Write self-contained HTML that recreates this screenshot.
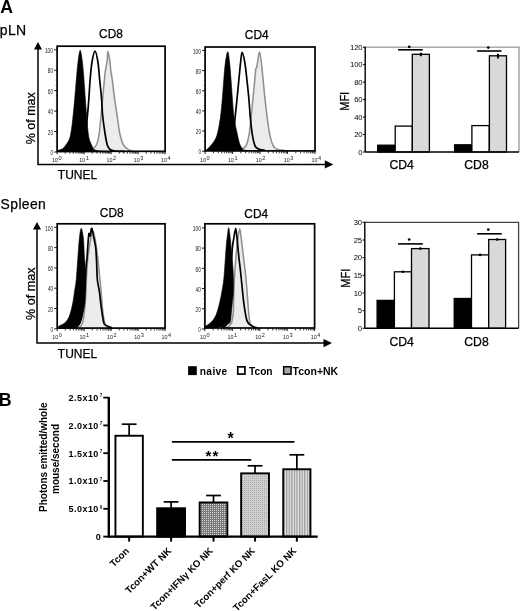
<!DOCTYPE html>
<html><head><meta charset="utf-8"><style>
html,body{margin:0;padding:0;background:#fff;overflow:hidden;width:520px;height:611px;}
svg{display:block;will-change:transform;}
text{font-family:"Liberation Sans", sans-serif;} .th{stroke:#000;stroke-width:0.25px;}
</style></head><body>
<svg width="520" height="611" viewBox="0 0 520 611">
<rect width="520" height="611" fill="#fff"/>
<text x="0.20" y="12.60" font-size="17.60" text-anchor="start" font-weight="bold" fill="#000" >A</text>
<text class="th" x="-0.20" y="34.60" font-size="14.00" text-anchor="start" font-weight="normal" fill="#000" letter-spacing="0.35">pLN</text>
<text class="th" x="0.60" y="209.40" font-size="13.90" text-anchor="start" font-weight="normal" fill="#000" letter-spacing="0.4">Spleen</text>
<path d="M80.00,152.00 C81.83,151.67 88.27,151.17 91.00,150.00 C93.73,148.83 95.05,147.67 96.40,145.00 C97.75,142.33 98.33,138.83 99.10,134.00 C99.87,129.17 100.40,122.00 101.00,116.00 C101.60,110.00 102.13,104.00 102.70,98.00 C103.27,92.00 103.95,84.58 104.40,80.00 C104.85,75.42 104.93,73.72 105.40,70.50 C105.87,67.28 106.80,63.92 107.20,60.70 C107.60,57.48 107.37,51.20 107.80,51.20 C108.23,51.20 109.30,57.48 109.80,60.70 C110.30,63.92 110.38,67.28 110.80,70.50 C111.22,73.72 111.68,75.42 112.30,80.00 C112.92,84.58 113.68,92.00 114.50,98.00 C115.32,104.00 116.30,110.00 117.20,116.00 C118.10,122.00 118.85,129.17 119.90,134.00 C120.95,138.83 122.00,142.33 123.50,145.00 C125.00,147.67 126.98,148.83 128.90,150.00 C130.82,151.17 133.98,151.67 135.00,152.00 Z" fill="#ececec" stroke="none"/>
<path d="M80.00,152.00 C81.83,151.67 88.27,151.17 91.00,150.00 C93.73,148.83 95.05,147.67 96.40,145.00 C97.75,142.33 98.33,138.83 99.10,134.00 C99.87,129.17 100.40,122.00 101.00,116.00 C101.60,110.00 102.13,104.00 102.70,98.00 C103.27,92.00 103.95,84.58 104.40,80.00 C104.85,75.42 104.93,73.72 105.40,70.50 C105.87,67.28 106.80,63.92 107.20,60.70 C107.60,57.48 107.37,51.20 107.80,51.20 C108.23,51.20 109.30,57.48 109.80,60.70 C110.30,63.92 110.38,67.28 110.80,70.50 C111.22,73.72 111.68,75.42 112.30,80.00 C112.92,84.58 113.68,92.00 114.50,98.00 C115.32,104.00 116.30,110.00 117.20,116.00 C118.10,122.00 118.85,129.17 119.90,134.00 C120.95,138.83 122.00,142.33 123.50,145.00 C125.00,147.67 126.98,148.83 128.90,150.00 C130.82,151.17 133.98,151.67 135.00,152.00" fill="none" stroke="#909090" stroke-width="1.55"/>
<path d="M57.30,152.00 C57.50,151.70 57.72,150.70 58.50,150.20 C59.28,149.70 60.95,149.63 62.00,149.00 C63.05,148.37 63.67,147.83 64.80,146.40 C65.93,144.97 67.83,142.37 68.80,140.40 C69.77,138.43 70.02,137.50 70.60,134.60 C71.18,131.70 71.82,126.85 72.30,123.00 C72.78,119.15 73.12,115.33 73.50,111.50 C73.88,107.67 74.13,105.25 74.60,100.00 C75.07,94.75 75.73,86.33 76.30,80.00 C76.87,73.67 77.35,66.95 78.00,62.00 C78.65,57.05 79.47,50.30 80.20,50.30 C80.93,50.30 81.77,57.05 82.40,62.00 C83.03,66.95 83.50,73.67 84.00,80.00 C84.50,86.33 85.02,94.75 85.40,100.00 C85.78,105.25 86.00,107.67 86.30,111.50 C86.60,115.33 86.85,119.15 87.20,123.00 C87.55,126.85 88.00,131.70 88.40,134.60 C88.80,137.50 88.97,138.47 89.60,140.40 C90.23,142.33 91.48,144.70 92.20,146.20 C92.92,147.70 92.60,148.57 93.90,149.40 C95.20,150.23 97.32,150.77 100.00,151.20 C102.68,151.63 108.33,151.87 110.00,152.00 Z" fill="#000" stroke="#000" stroke-width="0.6"/>
<path d="M72.00,151.50 C73.33,151.08 77.92,150.58 80.00,149.00 C82.08,147.42 83.27,147.50 84.50,142.00 C85.73,136.50 86.67,123.33 87.40,116.00 C88.13,108.67 88.45,104.00 88.90,98.00 C89.35,92.00 89.58,86.00 90.10,80.00 C90.62,74.00 91.18,66.80 92.00,62.00 C92.82,57.20 94.02,51.20 95.00,51.20 C95.98,51.20 97.12,57.20 97.90,62.00 C98.68,66.80 99.10,74.00 99.70,80.00 C100.30,86.00 101.00,92.00 101.50,98.00 C102.00,104.00 102.10,110.00 102.70,116.00 C103.30,122.00 104.33,129.17 105.10,134.00 C105.87,138.83 106.48,142.42 107.30,145.00 C108.12,147.58 108.72,148.50 110.00,149.50 C111.28,150.50 112.50,150.67 115.00,151.00 C117.50,151.33 123.33,151.42 125.00,151.50" fill="none" stroke="#000" stroke-width="1.7"/>
<rect x="57.10" y="46.20" width="108.00" height="105.10" fill="none" stroke="#000" stroke-width="1.7"/>
<line x1="54.10" y1="152.00" x2="57.10" y2="152.00" stroke="#000" stroke-width="0.9"/>
<text x="53.10" y="155.20" font-size="6.40" text-anchor="end" font-weight="normal" fill="#222" textLength="2.6" lengthAdjust="spacingAndGlyphs">0</text>
<line x1="55.80" y1="146.89" x2="57.10" y2="146.89" stroke="#333" stroke-width="0.7"/>
<line x1="55.80" y1="141.78" x2="57.10" y2="141.78" stroke="#333" stroke-width="0.7"/>
<line x1="55.80" y1="136.67" x2="57.10" y2="136.67" stroke="#333" stroke-width="0.7"/>
<line x1="54.10" y1="131.56" x2="57.10" y2="131.56" stroke="#000" stroke-width="0.9"/>
<text x="53.10" y="134.76" font-size="6.40" text-anchor="end" font-weight="normal" fill="#222" textLength="5.3" lengthAdjust="spacingAndGlyphs">20</text>
<line x1="55.80" y1="126.45" x2="57.10" y2="126.45" stroke="#333" stroke-width="0.7"/>
<line x1="55.80" y1="121.34" x2="57.10" y2="121.34" stroke="#333" stroke-width="0.7"/>
<line x1="55.80" y1="116.23" x2="57.10" y2="116.23" stroke="#333" stroke-width="0.7"/>
<line x1="54.10" y1="111.12" x2="57.10" y2="111.12" stroke="#000" stroke-width="0.9"/>
<text x="53.10" y="114.32" font-size="6.40" text-anchor="end" font-weight="normal" fill="#222" textLength="5.3" lengthAdjust="spacingAndGlyphs">40</text>
<line x1="55.80" y1="106.01" x2="57.10" y2="106.01" stroke="#333" stroke-width="0.7"/>
<line x1="55.80" y1="100.90" x2="57.10" y2="100.90" stroke="#333" stroke-width="0.7"/>
<line x1="55.80" y1="95.79" x2="57.10" y2="95.79" stroke="#333" stroke-width="0.7"/>
<line x1="54.10" y1="90.68" x2="57.10" y2="90.68" stroke="#000" stroke-width="0.9"/>
<text x="53.10" y="93.88" font-size="6.40" text-anchor="end" font-weight="normal" fill="#222" textLength="5.3" lengthAdjust="spacingAndGlyphs">60</text>
<line x1="55.80" y1="85.57" x2="57.10" y2="85.57" stroke="#333" stroke-width="0.7"/>
<line x1="55.80" y1="80.46" x2="57.10" y2="80.46" stroke="#333" stroke-width="0.7"/>
<line x1="55.80" y1="75.35" x2="57.10" y2="75.35" stroke="#333" stroke-width="0.7"/>
<line x1="54.10" y1="70.24" x2="57.10" y2="70.24" stroke="#000" stroke-width="0.9"/>
<text x="53.10" y="73.44" font-size="6.40" text-anchor="end" font-weight="normal" fill="#222" textLength="5.3" lengthAdjust="spacingAndGlyphs">80</text>
<line x1="55.80" y1="65.13" x2="57.10" y2="65.13" stroke="#333" stroke-width="0.7"/>
<line x1="55.80" y1="60.02" x2="57.10" y2="60.02" stroke="#333" stroke-width="0.7"/>
<line x1="55.80" y1="54.91" x2="57.10" y2="54.91" stroke="#333" stroke-width="0.7"/>
<line x1="54.10" y1="49.80" x2="57.10" y2="49.80" stroke="#000" stroke-width="0.9"/>
<text x="53.10" y="53.00" font-size="6.40" text-anchor="end" font-weight="normal" fill="#222" textLength="8.2" lengthAdjust="spacingAndGlyphs">100</text>
<line x1="57.10" y1="151.30" x2="57.10" y2="154.30" stroke="#000" stroke-width="0.9"/>
<text x="58.10" y="162.30" font-size="5.4" text-anchor="end" fill="#222">10</text>
<text x="58.60" y="160.10" font-size="5.6" fill="#222">0</text>
<line x1="65.23" y1="151.30" x2="65.23" y2="153.70" stroke="#111" stroke-width="0.85"/>
<line x1="69.98" y1="151.30" x2="69.98" y2="153.70" stroke="#111" stroke-width="0.85"/>
<line x1="73.36" y1="151.30" x2="73.36" y2="153.70" stroke="#111" stroke-width="0.85"/>
<line x1="75.97" y1="151.30" x2="75.97" y2="153.70" stroke="#111" stroke-width="0.85"/>
<line x1="78.11" y1="151.30" x2="78.11" y2="153.70" stroke="#111" stroke-width="0.85"/>
<line x1="79.92" y1="151.30" x2="79.92" y2="153.70" stroke="#111" stroke-width="0.85"/>
<line x1="81.48" y1="151.30" x2="81.48" y2="153.70" stroke="#111" stroke-width="0.85"/>
<line x1="82.86" y1="151.30" x2="82.86" y2="153.70" stroke="#111" stroke-width="0.85"/>
<line x1="84.10" y1="151.30" x2="84.10" y2="154.30" stroke="#000" stroke-width="0.9"/>
<text x="85.30" y="162.30" font-size="5.4" text-anchor="end" fill="#222">10</text>
<text x="85.80" y="160.10" font-size="5.6" fill="#222">1</text>
<line x1="92.23" y1="151.30" x2="92.23" y2="153.70" stroke="#111" stroke-width="0.85"/>
<line x1="96.98" y1="151.30" x2="96.98" y2="153.70" stroke="#111" stroke-width="0.85"/>
<line x1="100.36" y1="151.30" x2="100.36" y2="153.70" stroke="#111" stroke-width="0.85"/>
<line x1="102.97" y1="151.30" x2="102.97" y2="153.70" stroke="#111" stroke-width="0.85"/>
<line x1="105.11" y1="151.30" x2="105.11" y2="153.70" stroke="#111" stroke-width="0.85"/>
<line x1="106.92" y1="151.30" x2="106.92" y2="153.70" stroke="#111" stroke-width="0.85"/>
<line x1="108.48" y1="151.30" x2="108.48" y2="153.70" stroke="#111" stroke-width="0.85"/>
<line x1="109.86" y1="151.30" x2="109.86" y2="153.70" stroke="#111" stroke-width="0.85"/>
<line x1="111.10" y1="151.30" x2="111.10" y2="154.30" stroke="#000" stroke-width="0.9"/>
<text x="112.50" y="162.30" font-size="5.4" text-anchor="end" fill="#222">10</text>
<text x="113.00" y="160.10" font-size="5.6" fill="#222">2</text>
<line x1="119.23" y1="151.30" x2="119.23" y2="153.70" stroke="#111" stroke-width="0.85"/>
<line x1="123.98" y1="151.30" x2="123.98" y2="153.70" stroke="#111" stroke-width="0.85"/>
<line x1="127.36" y1="151.30" x2="127.36" y2="153.70" stroke="#111" stroke-width="0.85"/>
<line x1="129.97" y1="151.30" x2="129.97" y2="153.70" stroke="#111" stroke-width="0.85"/>
<line x1="132.11" y1="151.30" x2="132.11" y2="153.70" stroke="#111" stroke-width="0.85"/>
<line x1="133.92" y1="151.30" x2="133.92" y2="153.70" stroke="#111" stroke-width="0.85"/>
<line x1="135.48" y1="151.30" x2="135.48" y2="153.70" stroke="#111" stroke-width="0.85"/>
<line x1="136.86" y1="151.30" x2="136.86" y2="153.70" stroke="#111" stroke-width="0.85"/>
<line x1="138.10" y1="151.30" x2="138.10" y2="154.30" stroke="#000" stroke-width="0.9"/>
<text x="139.70" y="162.30" font-size="5.4" text-anchor="end" fill="#222">10</text>
<text x="140.20" y="160.10" font-size="5.6" fill="#222">3</text>
<line x1="146.23" y1="151.30" x2="146.23" y2="153.70" stroke="#111" stroke-width="0.85"/>
<line x1="150.98" y1="151.30" x2="150.98" y2="153.70" stroke="#111" stroke-width="0.85"/>
<line x1="154.36" y1="151.30" x2="154.36" y2="153.70" stroke="#111" stroke-width="0.85"/>
<line x1="156.97" y1="151.30" x2="156.97" y2="153.70" stroke="#111" stroke-width="0.85"/>
<line x1="159.11" y1="151.30" x2="159.11" y2="153.70" stroke="#111" stroke-width="0.85"/>
<line x1="160.92" y1="151.30" x2="160.92" y2="153.70" stroke="#111" stroke-width="0.85"/>
<line x1="162.48" y1="151.30" x2="162.48" y2="153.70" stroke="#111" stroke-width="0.85"/>
<line x1="163.86" y1="151.30" x2="163.86" y2="153.70" stroke="#111" stroke-width="0.85"/>
<line x1="165.10" y1="151.30" x2="165.10" y2="154.30" stroke="#000" stroke-width="0.9"/>
<text x="166.90" y="162.30" font-size="5.4" text-anchor="end" fill="#222">10</text>
<text x="167.40" y="160.10" font-size="5.6" fill="#222">4</text>
<text class="th" x="111.00" y="37.60" font-size="11.90" text-anchor="middle" font-weight="normal" fill="#000" >CD8</text>
<path d="M235.00,150.50 C235.78,150.33 237.93,150.17 239.70,149.50 C241.47,148.83 244.07,148.80 245.60,146.50 C247.13,144.20 247.98,140.55 248.90,135.70 C249.82,130.85 250.43,123.52 251.10,117.40 C251.77,111.28 252.30,105.12 252.90,99.00 C253.50,92.88 254.23,85.58 254.70,80.70 C255.17,75.82 255.32,72.15 255.70,69.70 C256.08,67.25 256.40,68.90 257.00,66.00 C257.60,63.10 258.58,52.92 259.30,52.30 C260.02,51.68 260.65,57.57 261.30,62.30 C261.95,67.03 262.58,74.58 263.20,80.70 C263.82,86.82 264.33,92.88 265.00,99.00 C265.67,105.12 266.37,111.28 267.20,117.40 C268.03,123.52 268.93,130.85 270.00,135.70 C271.07,140.55 272.23,144.20 273.60,146.50 C274.97,148.80 276.30,148.83 278.20,149.50 C280.10,150.17 283.87,150.33 285.00,150.50 Z" fill="#ececec" stroke="none"/>
<path d="M235.00,150.50 C235.78,150.33 237.93,150.17 239.70,149.50 C241.47,148.83 244.07,148.80 245.60,146.50 C247.13,144.20 247.98,140.55 248.90,135.70 C249.82,130.85 250.43,123.52 251.10,117.40 C251.77,111.28 252.30,105.12 252.90,99.00 C253.50,92.88 254.23,85.58 254.70,80.70 C255.17,75.82 255.32,72.15 255.70,69.70 C256.08,67.25 256.40,68.90 257.00,66.00 C257.60,63.10 258.58,52.92 259.30,52.30 C260.02,51.68 260.65,57.57 261.30,62.30 C261.95,67.03 262.58,74.58 263.20,80.70 C263.82,86.82 264.33,92.88 265.00,99.00 C265.67,105.12 266.37,111.28 267.20,117.40 C268.03,123.52 268.93,130.85 270.00,135.70 C271.07,140.55 272.23,144.20 273.60,146.50 C274.97,148.80 276.30,148.83 278.20,149.50 C280.10,150.17 283.87,150.33 285.00,150.50" fill="none" stroke="#909090" stroke-width="1.55"/>
<path d="M205.80,150.50 C206.72,149.58 209.47,147.47 211.30,145.00 C213.13,142.53 215.28,140.30 216.80,135.70 C218.32,131.10 219.48,123.52 220.40,117.40 C221.32,111.28 221.75,105.12 222.30,99.00 C222.85,92.88 223.18,86.82 223.70,80.70 C224.22,74.58 224.72,67.13 225.40,62.30 C226.08,57.47 227.10,51.70 227.80,51.70 C228.50,51.70 229.05,57.47 229.60,62.30 C230.15,67.13 230.63,74.58 231.10,80.70 C231.57,86.82 231.92,92.88 232.40,99.00 C232.88,105.12 233.28,112.02 234.00,117.40 C234.72,122.78 235.83,127.15 236.70,131.30 C237.57,135.45 238.40,139.60 239.20,142.30 C240.00,145.00 240.78,146.25 241.50,147.50 C242.22,148.75 242.42,149.25 243.50,149.80 C244.58,150.35 247.25,150.63 248.00,150.80 Z" fill="#000" stroke="#000" stroke-width="0.6"/>
<path d="M228.00,150.30 C228.75,148.75 231.32,146.48 232.50,141.00 C233.68,135.52 234.35,124.40 235.10,117.40 C235.85,110.40 236.38,105.12 237.00,99.00 C237.62,92.88 238.20,86.82 238.80,80.70 C239.40,74.58 240.05,67.03 240.60,62.30 C241.15,57.57 241.40,52.30 242.10,52.30 C242.80,52.30 243.98,57.57 244.80,62.30 C245.62,67.03 246.32,74.58 247.00,80.70 C247.68,86.82 248.35,92.88 248.90,99.00 C249.45,105.12 249.70,111.28 250.30,117.40 C250.90,123.52 251.67,130.85 252.50,135.70 C253.33,140.55 254.07,144.20 255.30,146.50 C256.53,148.80 258.28,148.87 259.90,149.50 C261.52,150.13 264.15,150.17 265.00,150.30" fill="none" stroke="#000" stroke-width="1.7"/>
<rect x="205.10" y="47.00" width="109.90" height="103.90" fill="none" stroke="#000" stroke-width="1.7"/>
<line x1="202.10" y1="151.20" x2="205.10" y2="151.20" stroke="#000" stroke-width="0.9"/>
<text x="201.10" y="154.40" font-size="6.40" text-anchor="end" font-weight="normal" fill="#222" textLength="2.6" lengthAdjust="spacingAndGlyphs">0</text>
<line x1="203.80" y1="146.16" x2="205.10" y2="146.16" stroke="#333" stroke-width="0.7"/>
<line x1="203.80" y1="141.12" x2="205.10" y2="141.12" stroke="#333" stroke-width="0.7"/>
<line x1="203.80" y1="136.08" x2="205.10" y2="136.08" stroke="#333" stroke-width="0.7"/>
<line x1="202.10" y1="131.04" x2="205.10" y2="131.04" stroke="#000" stroke-width="0.9"/>
<text x="201.10" y="134.24" font-size="6.40" text-anchor="end" font-weight="normal" fill="#222" textLength="5.3" lengthAdjust="spacingAndGlyphs">20</text>
<line x1="203.80" y1="126.00" x2="205.10" y2="126.00" stroke="#333" stroke-width="0.7"/>
<line x1="203.80" y1="120.96" x2="205.10" y2="120.96" stroke="#333" stroke-width="0.7"/>
<line x1="203.80" y1="115.92" x2="205.10" y2="115.92" stroke="#333" stroke-width="0.7"/>
<line x1="202.10" y1="110.88" x2="205.10" y2="110.88" stroke="#000" stroke-width="0.9"/>
<text x="201.10" y="114.08" font-size="6.40" text-anchor="end" font-weight="normal" fill="#222" textLength="5.3" lengthAdjust="spacingAndGlyphs">40</text>
<line x1="203.80" y1="105.84" x2="205.10" y2="105.84" stroke="#333" stroke-width="0.7"/>
<line x1="203.80" y1="100.80" x2="205.10" y2="100.80" stroke="#333" stroke-width="0.7"/>
<line x1="203.80" y1="95.76" x2="205.10" y2="95.76" stroke="#333" stroke-width="0.7"/>
<line x1="202.10" y1="90.72" x2="205.10" y2="90.72" stroke="#000" stroke-width="0.9"/>
<text x="201.10" y="93.92" font-size="6.40" text-anchor="end" font-weight="normal" fill="#222" textLength="5.3" lengthAdjust="spacingAndGlyphs">60</text>
<line x1="203.80" y1="85.68" x2="205.10" y2="85.68" stroke="#333" stroke-width="0.7"/>
<line x1="203.80" y1="80.64" x2="205.10" y2="80.64" stroke="#333" stroke-width="0.7"/>
<line x1="203.80" y1="75.60" x2="205.10" y2="75.60" stroke="#333" stroke-width="0.7"/>
<line x1="202.10" y1="70.56" x2="205.10" y2="70.56" stroke="#000" stroke-width="0.9"/>
<text x="201.10" y="73.76" font-size="6.40" text-anchor="end" font-weight="normal" fill="#222" textLength="5.3" lengthAdjust="spacingAndGlyphs">80</text>
<line x1="203.80" y1="65.52" x2="205.10" y2="65.52" stroke="#333" stroke-width="0.7"/>
<line x1="203.80" y1="60.48" x2="205.10" y2="60.48" stroke="#333" stroke-width="0.7"/>
<line x1="203.80" y1="55.44" x2="205.10" y2="55.44" stroke="#333" stroke-width="0.7"/>
<line x1="202.10" y1="50.40" x2="205.10" y2="50.40" stroke="#000" stroke-width="0.9"/>
<text x="201.10" y="53.60" font-size="6.40" text-anchor="end" font-weight="normal" fill="#222" textLength="8.2" lengthAdjust="spacingAndGlyphs">100</text>
<line x1="205.10" y1="150.90" x2="205.10" y2="153.90" stroke="#000" stroke-width="0.9"/>
<text x="206.10" y="161.90" font-size="5.4" text-anchor="end" fill="#222">10</text>
<text x="206.60" y="159.70" font-size="5.6" fill="#222">0</text>
<line x1="213.37" y1="150.90" x2="213.37" y2="153.30" stroke="#111" stroke-width="0.85"/>
<line x1="218.21" y1="150.90" x2="218.21" y2="153.30" stroke="#111" stroke-width="0.85"/>
<line x1="221.64" y1="150.90" x2="221.64" y2="153.30" stroke="#111" stroke-width="0.85"/>
<line x1="224.30" y1="150.90" x2="224.30" y2="153.30" stroke="#111" stroke-width="0.85"/>
<line x1="226.48" y1="150.90" x2="226.48" y2="153.30" stroke="#111" stroke-width="0.85"/>
<line x1="228.32" y1="150.90" x2="228.32" y2="153.30" stroke="#111" stroke-width="0.85"/>
<line x1="229.91" y1="150.90" x2="229.91" y2="153.30" stroke="#111" stroke-width="0.85"/>
<line x1="231.32" y1="150.90" x2="231.32" y2="153.30" stroke="#111" stroke-width="0.85"/>
<line x1="232.57" y1="150.90" x2="232.57" y2="153.90" stroke="#000" stroke-width="0.9"/>
<text x="233.95" y="161.90" font-size="5.4" text-anchor="end" fill="#222">10</text>
<text x="234.45" y="159.70" font-size="5.6" fill="#222">1</text>
<line x1="240.85" y1="150.90" x2="240.85" y2="153.30" stroke="#111" stroke-width="0.85"/>
<line x1="245.68" y1="150.90" x2="245.68" y2="153.30" stroke="#111" stroke-width="0.85"/>
<line x1="249.12" y1="150.90" x2="249.12" y2="153.30" stroke="#111" stroke-width="0.85"/>
<line x1="251.78" y1="150.90" x2="251.78" y2="153.30" stroke="#111" stroke-width="0.85"/>
<line x1="253.95" y1="150.90" x2="253.95" y2="153.30" stroke="#111" stroke-width="0.85"/>
<line x1="255.79" y1="150.90" x2="255.79" y2="153.30" stroke="#111" stroke-width="0.85"/>
<line x1="257.39" y1="150.90" x2="257.39" y2="153.30" stroke="#111" stroke-width="0.85"/>
<line x1="258.79" y1="150.90" x2="258.79" y2="153.30" stroke="#111" stroke-width="0.85"/>
<line x1="260.05" y1="150.90" x2="260.05" y2="153.90" stroke="#000" stroke-width="0.9"/>
<text x="261.80" y="161.90" font-size="5.4" text-anchor="end" fill="#222">10</text>
<text x="262.30" y="159.70" font-size="5.6" fill="#222">2</text>
<line x1="268.32" y1="150.90" x2="268.32" y2="153.30" stroke="#111" stroke-width="0.85"/>
<line x1="273.16" y1="150.90" x2="273.16" y2="153.30" stroke="#111" stroke-width="0.85"/>
<line x1="276.59" y1="150.90" x2="276.59" y2="153.30" stroke="#111" stroke-width="0.85"/>
<line x1="279.25" y1="150.90" x2="279.25" y2="153.30" stroke="#111" stroke-width="0.85"/>
<line x1="281.43" y1="150.90" x2="281.43" y2="153.30" stroke="#111" stroke-width="0.85"/>
<line x1="283.27" y1="150.90" x2="283.27" y2="153.30" stroke="#111" stroke-width="0.85"/>
<line x1="284.86" y1="150.90" x2="284.86" y2="153.30" stroke="#111" stroke-width="0.85"/>
<line x1="286.27" y1="150.90" x2="286.27" y2="153.30" stroke="#111" stroke-width="0.85"/>
<line x1="287.52" y1="150.90" x2="287.52" y2="153.90" stroke="#000" stroke-width="0.9"/>
<text x="289.65" y="161.90" font-size="5.4" text-anchor="end" fill="#222">10</text>
<text x="290.15" y="159.70" font-size="5.6" fill="#222">3</text>
<line x1="295.80" y1="150.90" x2="295.80" y2="153.30" stroke="#111" stroke-width="0.85"/>
<line x1="300.63" y1="150.90" x2="300.63" y2="153.30" stroke="#111" stroke-width="0.85"/>
<line x1="304.07" y1="150.90" x2="304.07" y2="153.30" stroke="#111" stroke-width="0.85"/>
<line x1="306.73" y1="150.90" x2="306.73" y2="153.30" stroke="#111" stroke-width="0.85"/>
<line x1="308.90" y1="150.90" x2="308.90" y2="153.30" stroke="#111" stroke-width="0.85"/>
<line x1="310.74" y1="150.90" x2="310.74" y2="153.30" stroke="#111" stroke-width="0.85"/>
<line x1="312.34" y1="150.90" x2="312.34" y2="153.30" stroke="#111" stroke-width="0.85"/>
<line x1="313.74" y1="150.90" x2="313.74" y2="153.30" stroke="#111" stroke-width="0.85"/>
<line x1="315.00" y1="150.90" x2="315.00" y2="153.90" stroke="#000" stroke-width="0.9"/>
<text x="317.50" y="161.90" font-size="5.4" text-anchor="end" fill="#222">10</text>
<text x="318.00" y="159.70" font-size="5.6" fill="#222">4</text>
<text class="th" x="256.70" y="39.00" font-size="11.90" text-anchor="middle" font-weight="normal" fill="#000" >CD4</text>
<path d="M38.00,47.00 V164.40 H327.30" fill="none" stroke="#000" stroke-width="1.5"/>
<path d="M38.00,42.00 L34.00,49.60 L42.00,49.60 Z" fill="#000"/>
<path d="M333.30,164.40 L324.80,160.20 L324.80,168.60 Z" fill="#000"/>
<text class="th" x="57.80" y="178.50" font-size="12.00" text-anchor="start" font-weight="normal" fill="#000" >TUNEL</text>
<text class="th" transform="translate(34.7,118.3) rotate(-90)" font-size="12.5" text-anchor="middle">% of max</text>
<path d="M75.00,328.50 C75.80,328.25 78.55,327.95 79.80,327.00 C81.05,326.05 81.73,325.35 82.50,322.80 C83.27,320.25 83.85,316.60 84.40,311.70 C84.95,306.80 85.43,299.52 85.80,293.40 C86.17,287.28 86.23,281.12 86.60,275.00 C86.97,268.88 87.35,262.53 88.00,256.70 C88.65,250.87 89.73,244.28 90.50,240.00 C91.27,235.72 91.85,231.28 92.60,231.00 C93.35,230.72 94.17,234.02 95.00,238.30 C95.83,242.58 96.85,250.58 97.60,256.70 C98.35,262.82 98.93,269.45 99.50,275.00 C100.07,280.55 100.58,285.33 101.00,290.00 C101.42,294.67 101.63,298.90 102.00,303.00 C102.37,307.10 102.70,311.13 103.20,314.60 C103.70,318.07 104.28,321.80 105.00,323.80 C105.72,325.80 106.67,325.85 107.50,326.60 C108.33,327.35 109.58,328.02 110.00,328.30 Z" fill="#ececec" stroke="none"/>
<path d="M75.00,328.50 C75.80,328.25 78.55,327.95 79.80,327.00 C81.05,326.05 81.73,325.35 82.50,322.80 C83.27,320.25 83.85,316.60 84.40,311.70 C84.95,306.80 85.43,299.52 85.80,293.40 C86.17,287.28 86.23,281.12 86.60,275.00 C86.97,268.88 87.35,262.53 88.00,256.70 C88.65,250.87 89.73,244.28 90.50,240.00 C91.27,235.72 91.85,231.28 92.60,231.00 C93.35,230.72 94.17,234.02 95.00,238.30 C95.83,242.58 96.85,250.58 97.60,256.70 C98.35,262.82 98.93,269.45 99.50,275.00 C100.07,280.55 100.58,285.33 101.00,290.00 C101.42,294.67 101.63,298.90 102.00,303.00 C102.37,307.10 102.70,311.13 103.20,314.60 C103.70,318.07 104.28,321.80 105.00,323.80 C105.72,325.80 106.67,325.85 107.50,326.60 C108.33,327.35 109.58,328.02 110.00,328.30" fill="none" stroke="#909090" stroke-width="1.55"/>
<path d="M57.50,328.50 C57.73,328.12 57.90,326.98 58.90,326.20 C59.90,325.42 62.15,324.77 63.50,323.80 C64.85,322.83 65.93,321.93 67.00,320.40 C68.07,318.87 68.93,317.50 69.90,314.60 C70.87,311.70 72.03,306.85 72.80,303.00 C73.57,299.15 73.93,295.33 74.50,291.50 C75.07,287.67 75.63,285.80 76.20,280.00 C76.77,274.20 77.37,263.65 77.90,256.70 C78.43,249.75 78.85,243.03 79.40,238.30 C79.95,233.57 80.53,228.30 81.20,228.30 C81.87,228.30 82.87,233.57 83.40,238.30 C83.93,243.03 84.00,250.58 84.40,256.70 C84.80,262.82 85.62,269.20 85.80,275.00 C85.98,280.80 85.65,286.83 85.50,291.50 C85.35,296.17 85.38,299.15 84.90,303.00 C84.42,306.85 83.28,311.70 82.60,314.60 C81.92,317.50 81.28,318.87 80.80,320.40 C80.32,321.93 80.37,322.83 79.70,323.80 C79.03,324.77 78.42,325.45 76.80,326.20 C75.18,326.95 71.13,327.95 70.00,328.30 Z" fill="#000" stroke="#000" stroke-width="0.6"/>
<path d="M72.00,328.30 C73.00,327.92 76.42,327.72 78.00,326.00 C79.58,324.28 80.53,322.33 81.50,318.00 C82.47,313.67 83.17,306.33 83.80,300.00 C84.43,293.67 84.90,285.68 85.30,280.00 C85.70,274.32 85.90,269.78 86.20,265.90 C86.50,262.02 86.85,259.77 87.10,256.70 C87.35,253.63 87.40,251.32 87.70,247.50 C88.00,243.68 88.48,235.72 88.90,233.80 C89.32,231.88 89.73,236.92 90.20,236.00 C90.67,235.08 91.08,227.92 91.70,228.30 C92.32,228.68 93.23,235.10 93.90,238.30 C94.57,241.50 95.27,243.88 95.70,247.50 C96.13,251.12 96.22,254.58 96.50,260.00 C96.78,265.42 96.92,274.75 97.40,280.00 C97.88,285.25 98.85,287.67 99.40,291.50 C99.95,295.33 100.22,299.15 100.70,303.00 C101.18,306.85 101.72,311.13 102.30,314.60 C102.88,318.07 103.17,321.83 104.20,323.80 C105.23,325.77 107.20,325.73 108.50,326.40 C109.80,327.07 111.42,327.57 112.00,327.80" fill="none" stroke="#000" stroke-width="1.7"/>
<rect x="57.20" y="223.80" width="107.85" height="104.30" fill="none" stroke="#000" stroke-width="1.7"/>
<line x1="54.20" y1="328.80" x2="57.20" y2="328.80" stroke="#000" stroke-width="0.9"/>
<text x="53.20" y="332.00" font-size="6.40" text-anchor="end" font-weight="normal" fill="#222" textLength="2.6" lengthAdjust="spacingAndGlyphs">0</text>
<line x1="55.90" y1="323.73" x2="57.20" y2="323.73" stroke="#333" stroke-width="0.7"/>
<line x1="55.90" y1="318.65" x2="57.20" y2="318.65" stroke="#333" stroke-width="0.7"/>
<line x1="55.90" y1="313.57" x2="57.20" y2="313.57" stroke="#333" stroke-width="0.7"/>
<line x1="54.20" y1="308.50" x2="57.20" y2="308.50" stroke="#000" stroke-width="0.9"/>
<text x="53.20" y="311.70" font-size="6.40" text-anchor="end" font-weight="normal" fill="#222" textLength="5.3" lengthAdjust="spacingAndGlyphs">20</text>
<line x1="55.90" y1="303.43" x2="57.20" y2="303.43" stroke="#333" stroke-width="0.7"/>
<line x1="55.90" y1="298.35" x2="57.20" y2="298.35" stroke="#333" stroke-width="0.7"/>
<line x1="55.90" y1="293.27" x2="57.20" y2="293.27" stroke="#333" stroke-width="0.7"/>
<line x1="54.20" y1="288.20" x2="57.20" y2="288.20" stroke="#000" stroke-width="0.9"/>
<text x="53.20" y="291.40" font-size="6.40" text-anchor="end" font-weight="normal" fill="#222" textLength="5.3" lengthAdjust="spacingAndGlyphs">40</text>
<line x1="55.90" y1="283.12" x2="57.20" y2="283.12" stroke="#333" stroke-width="0.7"/>
<line x1="55.90" y1="278.05" x2="57.20" y2="278.05" stroke="#333" stroke-width="0.7"/>
<line x1="55.90" y1="272.97" x2="57.20" y2="272.97" stroke="#333" stroke-width="0.7"/>
<line x1="54.20" y1="267.90" x2="57.20" y2="267.90" stroke="#000" stroke-width="0.9"/>
<text x="53.20" y="271.10" font-size="6.40" text-anchor="end" font-weight="normal" fill="#222" textLength="5.3" lengthAdjust="spacingAndGlyphs">60</text>
<line x1="55.90" y1="262.83" x2="57.20" y2="262.83" stroke="#333" stroke-width="0.7"/>
<line x1="55.90" y1="257.75" x2="57.20" y2="257.75" stroke="#333" stroke-width="0.7"/>
<line x1="55.90" y1="252.68" x2="57.20" y2="252.68" stroke="#333" stroke-width="0.7"/>
<line x1="54.20" y1="247.60" x2="57.20" y2="247.60" stroke="#000" stroke-width="0.9"/>
<text x="53.20" y="250.80" font-size="6.40" text-anchor="end" font-weight="normal" fill="#222" textLength="5.3" lengthAdjust="spacingAndGlyphs">80</text>
<line x1="55.90" y1="242.53" x2="57.20" y2="242.53" stroke="#333" stroke-width="0.7"/>
<line x1="55.90" y1="237.45" x2="57.20" y2="237.45" stroke="#333" stroke-width="0.7"/>
<line x1="55.90" y1="232.38" x2="57.20" y2="232.38" stroke="#333" stroke-width="0.7"/>
<line x1="54.20" y1="227.30" x2="57.20" y2="227.30" stroke="#000" stroke-width="0.9"/>
<text x="53.20" y="230.50" font-size="6.40" text-anchor="end" font-weight="normal" fill="#222" textLength="8.2" lengthAdjust="spacingAndGlyphs">100</text>
<line x1="57.20" y1="328.10" x2="57.20" y2="331.10" stroke="#000" stroke-width="0.9"/>
<text x="58.20" y="339.10" font-size="5.4" text-anchor="end" fill="#222">10</text>
<text x="58.70" y="336.90" font-size="5.6" fill="#222">0</text>
<line x1="65.32" y1="328.10" x2="65.32" y2="330.50" stroke="#111" stroke-width="0.85"/>
<line x1="70.06" y1="328.10" x2="70.06" y2="330.50" stroke="#111" stroke-width="0.85"/>
<line x1="73.43" y1="328.10" x2="73.43" y2="330.50" stroke="#111" stroke-width="0.85"/>
<line x1="76.05" y1="328.10" x2="76.05" y2="330.50" stroke="#111" stroke-width="0.85"/>
<line x1="78.18" y1="328.10" x2="78.18" y2="330.50" stroke="#111" stroke-width="0.85"/>
<line x1="79.99" y1="328.10" x2="79.99" y2="330.50" stroke="#111" stroke-width="0.85"/>
<line x1="81.55" y1="328.10" x2="81.55" y2="330.50" stroke="#111" stroke-width="0.85"/>
<line x1="82.93" y1="328.10" x2="82.93" y2="330.50" stroke="#111" stroke-width="0.85"/>
<line x1="84.16" y1="328.10" x2="84.16" y2="331.10" stroke="#000" stroke-width="0.9"/>
<text x="85.55" y="339.10" font-size="5.4" text-anchor="end" fill="#222">10</text>
<text x="86.05" y="336.90" font-size="5.6" fill="#222">1</text>
<line x1="92.28" y1="328.10" x2="92.28" y2="330.50" stroke="#111" stroke-width="0.85"/>
<line x1="97.03" y1="328.10" x2="97.03" y2="330.50" stroke="#111" stroke-width="0.85"/>
<line x1="100.40" y1="328.10" x2="100.40" y2="330.50" stroke="#111" stroke-width="0.85"/>
<line x1="103.01" y1="328.10" x2="103.01" y2="330.50" stroke="#111" stroke-width="0.85"/>
<line x1="105.14" y1="328.10" x2="105.14" y2="330.50" stroke="#111" stroke-width="0.85"/>
<line x1="106.95" y1="328.10" x2="106.95" y2="330.50" stroke="#111" stroke-width="0.85"/>
<line x1="108.51" y1="328.10" x2="108.51" y2="330.50" stroke="#111" stroke-width="0.85"/>
<line x1="109.89" y1="328.10" x2="109.89" y2="330.50" stroke="#111" stroke-width="0.85"/>
<line x1="111.12" y1="328.10" x2="111.12" y2="331.10" stroke="#000" stroke-width="0.9"/>
<text x="112.90" y="339.10" font-size="5.4" text-anchor="end" fill="#222">10</text>
<text x="113.40" y="336.90" font-size="5.6" fill="#222">2</text>
<line x1="119.24" y1="328.10" x2="119.24" y2="330.50" stroke="#111" stroke-width="0.85"/>
<line x1="123.99" y1="328.10" x2="123.99" y2="330.50" stroke="#111" stroke-width="0.85"/>
<line x1="127.36" y1="328.10" x2="127.36" y2="330.50" stroke="#111" stroke-width="0.85"/>
<line x1="129.97" y1="328.10" x2="129.97" y2="330.50" stroke="#111" stroke-width="0.85"/>
<line x1="132.11" y1="328.10" x2="132.11" y2="330.50" stroke="#111" stroke-width="0.85"/>
<line x1="133.91" y1="328.10" x2="133.91" y2="330.50" stroke="#111" stroke-width="0.85"/>
<line x1="135.47" y1="328.10" x2="135.47" y2="330.50" stroke="#111" stroke-width="0.85"/>
<line x1="136.85" y1="328.10" x2="136.85" y2="330.50" stroke="#111" stroke-width="0.85"/>
<line x1="138.09" y1="328.10" x2="138.09" y2="331.10" stroke="#000" stroke-width="0.9"/>
<text x="140.25" y="339.10" font-size="5.4" text-anchor="end" fill="#222">10</text>
<text x="140.75" y="336.90" font-size="5.6" fill="#222">3</text>
<line x1="146.20" y1="328.10" x2="146.20" y2="330.50" stroke="#111" stroke-width="0.85"/>
<line x1="150.95" y1="328.10" x2="150.95" y2="330.50" stroke="#111" stroke-width="0.85"/>
<line x1="154.32" y1="328.10" x2="154.32" y2="330.50" stroke="#111" stroke-width="0.85"/>
<line x1="156.93" y1="328.10" x2="156.93" y2="330.50" stroke="#111" stroke-width="0.85"/>
<line x1="159.07" y1="328.10" x2="159.07" y2="330.50" stroke="#111" stroke-width="0.85"/>
<line x1="160.87" y1="328.10" x2="160.87" y2="330.50" stroke="#111" stroke-width="0.85"/>
<line x1="162.44" y1="328.10" x2="162.44" y2="330.50" stroke="#111" stroke-width="0.85"/>
<line x1="163.82" y1="328.10" x2="163.82" y2="330.50" stroke="#111" stroke-width="0.85"/>
<line x1="165.05" y1="328.10" x2="165.05" y2="331.10" stroke="#000" stroke-width="0.9"/>
<text x="167.60" y="339.10" font-size="5.4" text-anchor="end" fill="#222">10</text>
<text x="168.10" y="336.90" font-size="5.6" fill="#222">4</text>
<text class="th" x="111.70" y="217.20" font-size="11.90" text-anchor="middle" font-weight="normal" fill="#000" >CD8</text>
<path d="M222.00,328.00 C223.00,327.83 226.42,327.87 228.00,327.00 C229.58,326.13 230.62,325.35 231.50,322.80 C232.38,320.25 232.92,316.60 233.30,311.70 C233.68,306.80 233.58,299.52 233.80,293.40 C234.02,287.28 234.23,281.12 234.60,275.00 C234.97,268.88 235.45,262.82 236.00,256.70 C236.55,250.58 237.28,242.95 237.90,238.30 C238.52,233.65 239.15,228.80 239.70,228.80 C240.25,228.80 240.58,233.65 241.20,238.30 C241.82,242.95 242.67,250.58 243.40,256.70 C244.13,262.82 244.97,268.88 245.60,275.00 C246.23,281.12 246.70,287.28 247.20,293.40 C247.70,299.52 248.13,306.80 248.60,311.70 C249.07,316.60 249.27,320.25 250.00,322.80 C250.73,325.35 252.00,326.13 253.00,327.00 C254.00,327.87 255.50,327.83 256.00,328.00 Z" fill="#ececec" stroke="none"/>
<path d="M222.00,328.00 C223.00,327.83 226.42,327.87 228.00,327.00 C229.58,326.13 230.62,325.35 231.50,322.80 C232.38,320.25 232.92,316.60 233.30,311.70 C233.68,306.80 233.58,299.52 233.80,293.40 C234.02,287.28 234.23,281.12 234.60,275.00 C234.97,268.88 235.45,262.82 236.00,256.70 C236.55,250.58 237.28,242.95 237.90,238.30 C238.52,233.65 239.15,228.80 239.70,228.80 C240.25,228.80 240.58,233.65 241.20,238.30 C241.82,242.95 242.67,250.58 243.40,256.70 C244.13,262.82 244.97,268.88 245.60,275.00 C246.23,281.12 246.70,287.28 247.20,293.40 C247.70,299.52 248.13,306.80 248.60,311.70 C249.07,316.60 249.27,320.25 250.00,322.80 C250.73,325.35 252.00,326.13 253.00,327.00 C254.00,327.87 255.50,327.83 256.00,328.00" fill="none" stroke="#909090" stroke-width="1.55"/>
<path d="M205.00,328.00 C205.08,327.73 204.80,327.10 205.50,326.40 C206.20,325.70 208.00,324.80 209.20,323.80 C210.40,322.80 211.53,321.93 212.70,320.40 C213.87,318.87 215.05,317.50 216.20,314.60 C217.35,311.70 218.65,306.85 219.60,303.00 C220.55,299.15 221.22,295.33 221.90,291.50 C222.58,287.67 223.20,284.42 223.70,280.00 C224.20,275.58 224.47,270.83 224.90,265.00 C225.33,259.17 225.87,250.00 226.30,245.00 C226.73,240.00 227.10,237.88 227.50,235.00 C227.90,232.12 228.23,227.15 228.70,227.70 C229.17,228.25 229.78,233.47 230.30,238.30 C230.82,243.13 231.32,251.08 231.80,256.70 C232.28,262.32 232.93,266.20 233.20,272.00 C233.47,277.80 233.55,286.33 233.40,291.50 C233.25,296.67 232.67,299.15 232.30,303.00 C231.93,306.85 231.48,311.70 231.20,314.60 C230.92,317.50 231.00,318.87 230.60,320.40 C230.20,321.93 230.07,322.80 228.80,323.80 C227.53,324.80 225.30,325.73 223.00,326.40 C220.70,327.07 216.33,327.57 215.00,327.80 Z" fill="#000" stroke="#000" stroke-width="0.6"/>
<path d="M222.00,328.00 C222.67,327.50 224.83,327.17 226.00,325.00 C227.17,322.83 228.17,320.83 229.00,315.00 C229.83,309.17 230.57,298.83 231.00,290.00 C231.43,281.17 231.37,269.08 231.60,262.00 C231.83,254.92 232.03,251.45 232.40,247.50 C232.77,243.55 233.25,241.50 233.80,238.30 C234.35,235.10 235.17,228.30 235.70,228.30 C236.23,228.30 236.48,233.57 237.00,238.30 C237.52,243.03 238.20,251.08 238.80,256.70 C239.40,262.32 240.03,266.78 240.60,272.00 C241.17,277.22 241.67,282.83 242.20,288.00 C242.73,293.17 243.23,298.57 243.80,303.00 C244.37,307.43 245.08,311.70 245.60,314.60 C246.12,317.50 246.33,318.87 246.90,320.40 C247.47,321.93 247.98,322.80 249.00,323.80 C250.02,324.80 251.67,325.73 253.00,326.40 C254.33,327.07 256.33,327.57 257.00,327.80" fill="none" stroke="#000" stroke-width="1.7"/>
<rect x="204.90" y="223.80" width="109.70" height="104.20" fill="none" stroke="#000" stroke-width="1.7"/>
<line x1="201.90" y1="329.00" x2="204.90" y2="329.00" stroke="#000" stroke-width="0.9"/>
<text x="200.90" y="332.20" font-size="6.40" text-anchor="end" font-weight="normal" fill="#222" textLength="2.6" lengthAdjust="spacingAndGlyphs">0</text>
<line x1="203.60" y1="323.94" x2="204.90" y2="323.94" stroke="#333" stroke-width="0.7"/>
<line x1="203.60" y1="318.89" x2="204.90" y2="318.89" stroke="#333" stroke-width="0.7"/>
<line x1="203.60" y1="313.83" x2="204.90" y2="313.83" stroke="#333" stroke-width="0.7"/>
<line x1="201.90" y1="308.78" x2="204.90" y2="308.78" stroke="#000" stroke-width="0.9"/>
<text x="200.90" y="311.98" font-size="6.40" text-anchor="end" font-weight="normal" fill="#222" textLength="5.3" lengthAdjust="spacingAndGlyphs">20</text>
<line x1="203.60" y1="303.72" x2="204.90" y2="303.72" stroke="#333" stroke-width="0.7"/>
<line x1="203.60" y1="298.67" x2="204.90" y2="298.67" stroke="#333" stroke-width="0.7"/>
<line x1="203.60" y1="293.61" x2="204.90" y2="293.61" stroke="#333" stroke-width="0.7"/>
<line x1="201.90" y1="288.56" x2="204.90" y2="288.56" stroke="#000" stroke-width="0.9"/>
<text x="200.90" y="291.76" font-size="6.40" text-anchor="end" font-weight="normal" fill="#222" textLength="5.3" lengthAdjust="spacingAndGlyphs">40</text>
<line x1="203.60" y1="283.50" x2="204.90" y2="283.50" stroke="#333" stroke-width="0.7"/>
<line x1="203.60" y1="278.45" x2="204.90" y2="278.45" stroke="#333" stroke-width="0.7"/>
<line x1="203.60" y1="273.39" x2="204.90" y2="273.39" stroke="#333" stroke-width="0.7"/>
<line x1="201.90" y1="268.34" x2="204.90" y2="268.34" stroke="#000" stroke-width="0.9"/>
<text x="200.90" y="271.54" font-size="6.40" text-anchor="end" font-weight="normal" fill="#222" textLength="5.3" lengthAdjust="spacingAndGlyphs">60</text>
<line x1="203.60" y1="263.29" x2="204.90" y2="263.29" stroke="#333" stroke-width="0.7"/>
<line x1="203.60" y1="258.23" x2="204.90" y2="258.23" stroke="#333" stroke-width="0.7"/>
<line x1="203.60" y1="253.18" x2="204.90" y2="253.18" stroke="#333" stroke-width="0.7"/>
<line x1="201.90" y1="248.12" x2="204.90" y2="248.12" stroke="#000" stroke-width="0.9"/>
<text x="200.90" y="251.32" font-size="6.40" text-anchor="end" font-weight="normal" fill="#222" textLength="5.3" lengthAdjust="spacingAndGlyphs">80</text>
<line x1="203.60" y1="243.06" x2="204.90" y2="243.06" stroke="#333" stroke-width="0.7"/>
<line x1="203.60" y1="238.01" x2="204.90" y2="238.01" stroke="#333" stroke-width="0.7"/>
<line x1="203.60" y1="232.96" x2="204.90" y2="232.96" stroke="#333" stroke-width="0.7"/>
<line x1="201.90" y1="227.90" x2="204.90" y2="227.90" stroke="#000" stroke-width="0.9"/>
<text x="200.90" y="231.10" font-size="6.40" text-anchor="end" font-weight="normal" fill="#222" textLength="8.2" lengthAdjust="spacingAndGlyphs">100</text>
<line x1="204.90" y1="328.00" x2="204.90" y2="331.00" stroke="#000" stroke-width="0.9"/>
<text x="205.90" y="339.00" font-size="5.4" text-anchor="end" fill="#222">10</text>
<text x="206.40" y="336.80" font-size="5.6" fill="#222">0</text>
<line x1="213.16" y1="328.00" x2="213.16" y2="330.40" stroke="#111" stroke-width="0.85"/>
<line x1="217.99" y1="328.00" x2="217.99" y2="330.40" stroke="#111" stroke-width="0.85"/>
<line x1="221.41" y1="328.00" x2="221.41" y2="330.40" stroke="#111" stroke-width="0.85"/>
<line x1="224.07" y1="328.00" x2="224.07" y2="330.40" stroke="#111" stroke-width="0.85"/>
<line x1="226.24" y1="328.00" x2="226.24" y2="330.40" stroke="#111" stroke-width="0.85"/>
<line x1="228.08" y1="328.00" x2="228.08" y2="330.40" stroke="#111" stroke-width="0.85"/>
<line x1="229.67" y1="328.00" x2="229.67" y2="330.40" stroke="#111" stroke-width="0.85"/>
<line x1="231.07" y1="328.00" x2="231.07" y2="330.40" stroke="#111" stroke-width="0.85"/>
<line x1="232.33" y1="328.00" x2="232.33" y2="331.00" stroke="#000" stroke-width="0.9"/>
<text x="233.60" y="339.00" font-size="5.4" text-anchor="end" fill="#222">10</text>
<text x="234.10" y="336.80" font-size="5.6" fill="#222">1</text>
<line x1="240.58" y1="328.00" x2="240.58" y2="330.40" stroke="#111" stroke-width="0.85"/>
<line x1="245.41" y1="328.00" x2="245.41" y2="330.40" stroke="#111" stroke-width="0.85"/>
<line x1="248.84" y1="328.00" x2="248.84" y2="330.40" stroke="#111" stroke-width="0.85"/>
<line x1="251.49" y1="328.00" x2="251.49" y2="330.40" stroke="#111" stroke-width="0.85"/>
<line x1="253.67" y1="328.00" x2="253.67" y2="330.40" stroke="#111" stroke-width="0.85"/>
<line x1="255.50" y1="328.00" x2="255.50" y2="330.40" stroke="#111" stroke-width="0.85"/>
<line x1="257.09" y1="328.00" x2="257.09" y2="330.40" stroke="#111" stroke-width="0.85"/>
<line x1="258.50" y1="328.00" x2="258.50" y2="330.40" stroke="#111" stroke-width="0.85"/>
<line x1="259.75" y1="328.00" x2="259.75" y2="331.00" stroke="#000" stroke-width="0.9"/>
<text x="261.30" y="339.00" font-size="5.4" text-anchor="end" fill="#222">10</text>
<text x="261.80" y="336.80" font-size="5.6" fill="#222">2</text>
<line x1="268.01" y1="328.00" x2="268.01" y2="330.40" stroke="#111" stroke-width="0.85"/>
<line x1="272.84" y1="328.00" x2="272.84" y2="330.40" stroke="#111" stroke-width="0.85"/>
<line x1="276.26" y1="328.00" x2="276.26" y2="330.40" stroke="#111" stroke-width="0.85"/>
<line x1="278.92" y1="328.00" x2="278.92" y2="330.40" stroke="#111" stroke-width="0.85"/>
<line x1="281.09" y1="328.00" x2="281.09" y2="330.40" stroke="#111" stroke-width="0.85"/>
<line x1="282.93" y1="328.00" x2="282.93" y2="330.40" stroke="#111" stroke-width="0.85"/>
<line x1="284.52" y1="328.00" x2="284.52" y2="330.40" stroke="#111" stroke-width="0.85"/>
<line x1="285.92" y1="328.00" x2="285.92" y2="330.40" stroke="#111" stroke-width="0.85"/>
<line x1="287.18" y1="328.00" x2="287.18" y2="331.00" stroke="#000" stroke-width="0.9"/>
<text x="289.00" y="339.00" font-size="5.4" text-anchor="end" fill="#222">10</text>
<text x="289.50" y="336.80" font-size="5.6" fill="#222">3</text>
<line x1="295.43" y1="328.00" x2="295.43" y2="330.40" stroke="#111" stroke-width="0.85"/>
<line x1="300.26" y1="328.00" x2="300.26" y2="330.40" stroke="#111" stroke-width="0.85"/>
<line x1="303.69" y1="328.00" x2="303.69" y2="330.40" stroke="#111" stroke-width="0.85"/>
<line x1="306.34" y1="328.00" x2="306.34" y2="330.40" stroke="#111" stroke-width="0.85"/>
<line x1="308.52" y1="328.00" x2="308.52" y2="330.40" stroke="#111" stroke-width="0.85"/>
<line x1="310.35" y1="328.00" x2="310.35" y2="330.40" stroke="#111" stroke-width="0.85"/>
<line x1="311.94" y1="328.00" x2="311.94" y2="330.40" stroke="#111" stroke-width="0.85"/>
<line x1="313.35" y1="328.00" x2="313.35" y2="330.40" stroke="#111" stroke-width="0.85"/>
<line x1="314.60" y1="328.00" x2="314.60" y2="331.00" stroke="#000" stroke-width="0.9"/>
<text x="316.70" y="339.00" font-size="5.4" text-anchor="end" fill="#222">10</text>
<text x="317.20" y="336.80" font-size="5.6" fill="#222">4</text>
<text class="th" x="256.20" y="218.30" font-size="11.90" text-anchor="middle" font-weight="normal" fill="#000" >CD4</text>
<path d="M37.00,227.00 V343.10 H326.00" fill="none" stroke="#000" stroke-width="1.5"/>
<path d="M37.00,222.00 L33.00,229.60 L41.00,229.60 Z" fill="#000"/>
<path d="M332.00,343.10 L323.50,338.90 L323.50,347.30 Z" fill="#000"/>
<text class="th" x="57.80" y="358.30" font-size="12.00" text-anchor="start" font-weight="normal" fill="#000" >TUNEL</text>
<text class="th" transform="translate(34.5,293.7) rotate(-90)" font-size="12.6" text-anchor="middle">% of max</text>
<path d="M365.20,47.20 H519.00 V152.00" fill="none" stroke="#aaa" stroke-width="1.60"/>
<rect x="377.70" y="145.20" width="17.50" height="6.80" fill="#000" stroke="#000" stroke-width="1.3"/>
<rect x="395.20" y="126.10" width="17.10" height="25.90" fill="#fff" stroke="#000" stroke-width="1.3"/>
<rect x="412.30" y="54.30" width="17.10" height="97.70" fill="#d9d9d9" stroke="#000" stroke-width="1.3"/>
<line x1="420.85" y1="52.70" x2="420.85" y2="56.20" stroke="#000" stroke-width="1.8"/>
<circle cx="420.85" cy="54.30" r="1.3" fill="#000"/>
<rect x="454.60" y="144.80" width="17.30" height="7.20" fill="#000" stroke="#000" stroke-width="1.3"/>
<rect x="471.90" y="125.60" width="17.30" height="26.40" fill="#fff" stroke="#000" stroke-width="1.3"/>
<rect x="489.40" y="55.80" width="17.10" height="96.20" fill="#d9d9d9" stroke="#000" stroke-width="1.3"/>
<line x1="497.95" y1="53.70" x2="497.95" y2="58.50" stroke="#000" stroke-width="1.8"/>
<circle cx="497.95" cy="55.80" r="1.3" fill="#000"/>
<line x1="365.20" y1="46.70" x2="365.20" y2="152.00" stroke="#000" stroke-width="1.4"/>
<line x1="365.20" y1="152.00" x2="519.00" y2="152.00" stroke="#000" stroke-width="1.4"/>
<line x1="363.00" y1="152.00" x2="365.20" y2="152.00" stroke="#000" stroke-width="1"/>
<text x="362.20" y="154.70" font-size="7.70" text-anchor="end" font-weight="normal" fill="#000" letter-spacing="-0.25">0</text>
<line x1="363.00" y1="134.53" x2="365.20" y2="134.53" stroke="#000" stroke-width="1"/>
<text x="362.20" y="137.23" font-size="7.70" text-anchor="end" font-weight="normal" fill="#000" letter-spacing="-0.25">20</text>
<line x1="363.00" y1="117.07" x2="365.20" y2="117.07" stroke="#000" stroke-width="1"/>
<text x="362.20" y="119.77" font-size="7.70" text-anchor="end" font-weight="normal" fill="#000" letter-spacing="-0.25">40</text>
<line x1="363.00" y1="99.60" x2="365.20" y2="99.60" stroke="#000" stroke-width="1"/>
<text x="362.20" y="102.30" font-size="7.70" text-anchor="end" font-weight="normal" fill="#000" letter-spacing="-0.25">60</text>
<line x1="363.00" y1="82.13" x2="365.20" y2="82.13" stroke="#000" stroke-width="1"/>
<text x="362.20" y="84.83" font-size="7.70" text-anchor="end" font-weight="normal" fill="#000" letter-spacing="-0.25">80</text>
<line x1="363.00" y1="64.67" x2="365.20" y2="64.67" stroke="#000" stroke-width="1"/>
<text x="362.20" y="67.37" font-size="7.70" text-anchor="end" font-weight="normal" fill="#000" letter-spacing="-0.25">100</text>
<line x1="363.00" y1="47.20" x2="365.20" y2="47.20" stroke="#000" stroke-width="1"/>
<text x="362.20" y="49.90" font-size="7.70" text-anchor="end" font-weight="normal" fill="#000" letter-spacing="-0.25">120</text>
<line x1="398.10" y1="49.80" x2="422.70" y2="49.80" stroke="#000" stroke-width="1.6"/>
<circle cx="409.20" cy="46.80" r="1.35" fill="#000"/>
<line x1="477.10" y1="51.00" x2="501.50" y2="51.00" stroke="#000" stroke-width="1.6"/>
<circle cx="488.30" cy="47.60" r="1.35" fill="#000"/>
<text class="th" x="401.60" y="169.00" font-size="12.20" text-anchor="middle" font-weight="normal" fill="#000" >CD4</text>
<text class="th" x="476.50" y="169.00" font-size="12.20" text-anchor="middle" font-weight="normal" fill="#000" >CD8</text>
<text class="th" transform="translate(348.80,101.30) rotate(-90)" font-size="12" text-anchor="middle" textLength="19" lengthAdjust="spacingAndGlyphs">MFI</text>
<path d="M364.80,222.30 H518.60 V328.30" fill="none" stroke="#444" stroke-width="1.30"/>
<rect x="377.10" y="300.40" width="17.30" height="27.90" fill="#000" stroke="#000" stroke-width="1.3"/>
<rect x="394.40" y="271.80" width="17.10" height="56.50" fill="#fff" stroke="#000" stroke-width="1.3"/>
<line x1="402.95" y1="271.30" x2="402.95" y2="272.30" stroke="#000" stroke-width="1.8"/>
<circle cx="402.95" cy="271.80" r="1.3" fill="#000"/>
<rect x="411.50" y="248.60" width="17.50" height="79.70" fill="#d9d9d9" stroke="#000" stroke-width="1.3"/>
<line x1="420.25" y1="248.00" x2="420.25" y2="249.40" stroke="#000" stroke-width="1.8"/>
<circle cx="420.25" cy="248.60" r="1.3" fill="#000"/>
<rect x="454.20" y="298.50" width="17.30" height="29.80" fill="#000" stroke="#000" stroke-width="1.3"/>
<rect x="471.50" y="254.90" width="17.20" height="73.40" fill="#fff" stroke="#000" stroke-width="1.3"/>
<line x1="480.10" y1="254.30" x2="480.10" y2="255.50" stroke="#000" stroke-width="1.8"/>
<circle cx="480.10" cy="254.90" r="1.3" fill="#000"/>
<rect x="488.70" y="239.50" width="16.90" height="88.80" fill="#d9d9d9" stroke="#000" stroke-width="1.3"/>
<line x1="497.15" y1="238.90" x2="497.15" y2="240.20" stroke="#000" stroke-width="1.8"/>
<circle cx="497.15" cy="239.50" r="1.3" fill="#000"/>
<line x1="364.80" y1="221.80" x2="364.80" y2="328.30" stroke="#000" stroke-width="1.4"/>
<line x1="364.80" y1="328.30" x2="518.60" y2="328.30" stroke="#000" stroke-width="1.4"/>
<line x1="362.60" y1="328.30" x2="364.80" y2="328.30" stroke="#000" stroke-width="1"/>
<text x="361.80" y="331.00" font-size="7.70" text-anchor="end" font-weight="normal" fill="#000" letter-spacing="-0.25">0</text>
<line x1="362.60" y1="310.63" x2="364.80" y2="310.63" stroke="#000" stroke-width="1"/>
<text x="361.80" y="313.33" font-size="7.70" text-anchor="end" font-weight="normal" fill="#000" letter-spacing="-0.25">5</text>
<line x1="362.60" y1="292.97" x2="364.80" y2="292.97" stroke="#000" stroke-width="1"/>
<text x="361.80" y="295.67" font-size="7.70" text-anchor="end" font-weight="normal" fill="#000" letter-spacing="-0.25">10</text>
<line x1="362.60" y1="275.30" x2="364.80" y2="275.30" stroke="#000" stroke-width="1"/>
<text x="361.80" y="278.00" font-size="7.70" text-anchor="end" font-weight="normal" fill="#000" letter-spacing="-0.25">15</text>
<line x1="362.60" y1="257.63" x2="364.80" y2="257.63" stroke="#000" stroke-width="1"/>
<text x="361.80" y="260.33" font-size="7.70" text-anchor="end" font-weight="normal" fill="#000" letter-spacing="-0.25">20</text>
<line x1="362.60" y1="239.97" x2="364.80" y2="239.97" stroke="#000" stroke-width="1"/>
<text x="361.80" y="242.67" font-size="7.70" text-anchor="end" font-weight="normal" fill="#000" letter-spacing="-0.25">25</text>
<line x1="362.60" y1="222.30" x2="364.80" y2="222.30" stroke="#000" stroke-width="1"/>
<text x="361.80" y="225.00" font-size="7.70" text-anchor="end" font-weight="normal" fill="#000" letter-spacing="-0.25">30</text>
<line x1="398.10" y1="243.90" x2="422.80" y2="243.90" stroke="#000" stroke-width="1.6"/>
<circle cx="409.20" cy="239.50" r="1.35" fill="#000"/>
<line x1="477.10" y1="233.80" x2="501.70" y2="233.80" stroke="#000" stroke-width="1.6"/>
<circle cx="488.30" cy="229.60" r="1.35" fill="#000"/>
<text class="th" x="401.60" y="346.10" font-size="12.20" text-anchor="middle" font-weight="normal" fill="#000" >CD4</text>
<text class="th" x="476.50" y="346.10" font-size="12.20" text-anchor="middle" font-weight="normal" fill="#000" >CD8</text>
<text class="th" transform="translate(350.20,278.20) rotate(-90)" font-size="12" text-anchor="middle" textLength="19" lengthAdjust="spacingAndGlyphs">MFI</text>
<rect x="188.1" y="366.2" width="8.7" height="8.9" fill="#000"/>
<text x="199.80" y="374.80" font-size="10.20" text-anchor="start" font-weight="bold" fill="#000" letter-spacing="0.35">naive</text>
<rect x="237.75" y="366.85" width="7.2" height="7.2" fill="#fff" stroke="#000" stroke-width="1.7"/>
<text x="249.00" y="375.00" font-size="10.20" text-anchor="start" font-weight="bold" fill="#000" >Tcon</text>
<rect x="283.65" y="366.75" width="7.4" height="7.4" fill="#a8a8a8" stroke="#000" stroke-width="1.5"/>
<text x="292.60" y="375.00" font-size="10.50" text-anchor="start" font-weight="bold" fill="#000" >Tcon+NK</text>
<text x="-1.20" y="405.60" font-size="17.80" text-anchor="start" font-weight="bold" fill="#000" >B</text>
<defs>
<pattern id="dotdark" width="2" height="2" patternUnits="userSpaceOnUse"><rect width="2" height="2" fill="#7a7a7a"/><rect width="1" height="1" fill="#d8d8d8"/></pattern>
<pattern id="dotlight" width="2" height="2" patternUnits="userSpaceOnUse"><rect width="2" height="2" fill="#cfcfcf"/><rect width="1" height="1" fill="#ababab"/></pattern>
<pattern id="stripes" width="2.6" height="4" patternUnits="userSpaceOnUse"><rect width="2.6" height="4" fill="#e8e8e8"/><rect width="1.3" height="4" fill="#9a9a9a"/></pattern>
</defs>
<line x1="129.15" y1="435.80" x2="129.15" y2="424.20" stroke="#000" stroke-width="1.7"/>
<line x1="121.75" y1="424.20" x2="136.55" y2="424.20" stroke="#000" stroke-width="1.7"/>
<rect x="115.45" y="435.75" width="27.40" height="100.85" fill="#fff" stroke="#000" stroke-width="1.90"/>
<line x1="129.15" y1="536.60" x2="129.15" y2="541.60" stroke="#000" stroke-width="2"/>
<line x1="171.10" y1="508.30" x2="171.10" y2="501.90" stroke="#000" stroke-width="1.7"/>
<line x1="163.70" y1="501.90" x2="178.50" y2="501.90" stroke="#000" stroke-width="1.7"/>
<rect x="157.15" y="508.25" width="27.90" height="28.35" fill="#000" stroke="#000" stroke-width="1.90"/>
<line x1="171.10" y1="536.60" x2="171.10" y2="541.60" stroke="#000" stroke-width="2"/>
<line x1="213.50" y1="502.50" x2="213.50" y2="495.50" stroke="#000" stroke-width="1.7"/>
<line x1="206.10" y1="495.50" x2="220.90" y2="495.50" stroke="#000" stroke-width="1.7"/>
<rect x="199.65" y="502.45" width="27.70" height="34.15" fill="url(#dotdark)" stroke="#000" stroke-width="1.90"/>
<line x1="213.50" y1="536.60" x2="213.50" y2="541.60" stroke="#000" stroke-width="2"/>
<line x1="255.05" y1="473.40" x2="255.05" y2="465.80" stroke="#000" stroke-width="1.7"/>
<line x1="247.65" y1="465.80" x2="262.45" y2="465.80" stroke="#000" stroke-width="1.7"/>
<rect x="241.15" y="473.35" width="27.80" height="63.25" fill="url(#dotlight)" stroke="#000" stroke-width="1.90"/>
<line x1="255.05" y1="536.60" x2="255.05" y2="541.60" stroke="#000" stroke-width="2"/>
<line x1="296.85" y1="469.30" x2="296.85" y2="454.80" stroke="#000" stroke-width="1.7"/>
<line x1="289.45" y1="454.80" x2="304.25" y2="454.80" stroke="#000" stroke-width="1.7"/>
<rect x="283.25" y="469.25" width="27.20" height="67.35" fill="url(#stripes)" stroke="#000" stroke-width="1.90"/>
<line x1="296.85" y1="536.60" x2="296.85" y2="541.60" stroke="#000" stroke-width="2"/>
<line x1="108.80" y1="397.10" x2="108.80" y2="537.60" stroke="#000" stroke-width="2.4"/>
<line x1="107.80" y1="536.60" x2="317.70" y2="536.60" stroke="#000" stroke-width="2.3"/>
<line x1="103.30" y1="536.60" x2="108.80" y2="536.60" stroke="#000" stroke-width="1.8"/>
<text x="100.80" y="539.80" font-size="9.00" text-anchor="end" font-weight="bold" fill="#000" >0</text>
<line x1="103.30" y1="508.80" x2="108.80" y2="508.80" stroke="#000" stroke-width="1.8"/>
<text x="68.60" y="512.10" font-size="9" font-weight="bold" text-anchor="start" letter-spacing="0.45">5.0x10</text>
<text x="99.80" y="508.60" font-size="4.6" font-weight="bold" fill="#222">6</text>
<line x1="103.30" y1="481.00" x2="108.80" y2="481.00" stroke="#000" stroke-width="1.8"/>
<text x="68.60" y="484.30" font-size="9" font-weight="bold" text-anchor="start" letter-spacing="0.45">1.0x10</text>
<text x="99.80" y="480.80" font-size="4.6" font-weight="bold" fill="#222">7</text>
<line x1="103.30" y1="453.20" x2="108.80" y2="453.20" stroke="#000" stroke-width="1.8"/>
<text x="68.60" y="456.50" font-size="9" font-weight="bold" text-anchor="start" letter-spacing="0.45">1.5x10</text>
<text x="99.80" y="453.00" font-size="4.6" font-weight="bold" fill="#222">7</text>
<line x1="103.30" y1="425.40" x2="108.80" y2="425.40" stroke="#000" stroke-width="1.8"/>
<text x="68.60" y="428.70" font-size="9" font-weight="bold" text-anchor="start" letter-spacing="0.45">2.0x10</text>
<text x="99.80" y="425.20" font-size="4.6" font-weight="bold" fill="#222">7</text>
<line x1="103.30" y1="397.60" x2="108.80" y2="397.60" stroke="#000" stroke-width="1.8"/>
<text x="68.60" y="400.90" font-size="9" font-weight="bold" text-anchor="start" letter-spacing="0.45">2.5x10</text>
<text x="99.80" y="397.40" font-size="4.6" font-weight="bold" fill="#222">7</text>
<text transform="translate(46.7,457.2) rotate(-90)" font-size="10" font-weight="bold" text-anchor="middle">Photons emitted/whole</text>
<text transform="translate(58.5,459.0) rotate(-90)" font-size="10" font-weight="bold" text-anchor="middle">mouse/second</text>
<line x1="171.9" y1="441.9" x2="294.5" y2="441.9" stroke="#000" stroke-width="1.8"/>
<line x1="171.9" y1="459.9" x2="251.2" y2="459.9" stroke="#000" stroke-width="1.8"/>
<text x="230.70" y="444.20" font-size="16.00" text-anchor="middle" font-weight="bold" fill="#000" >*</text>
<text x="212.40" y="461.20" font-size="15.00" text-anchor="middle" font-weight="bold" fill="#000" letter-spacing="1.0">**</text>
<text transform="translate(129.70,551.60) rotate(-45)" font-size="9.75" font-weight="bold" text-anchor="end">Tcon</text>
<text transform="translate(171.90,551.60) rotate(-45)" font-size="9.75" font-weight="bold" text-anchor="end">Tcon+WT NK</text>
<text transform="translate(213.60,551.60) rotate(-45)" font-size="9.75" font-weight="bold" text-anchor="end">Tcon+IFN&#947; KO NK</text>
<text transform="translate(255.60,551.60) rotate(-45)" font-size="9.75" font-weight="bold" text-anchor="end">Tcon+perf KO NK</text>
<text transform="translate(297.10,551.60) rotate(-45)" font-size="9.75" font-weight="bold" text-anchor="end">Tcon+FasL KO NK</text>
</svg>
</body></html>
